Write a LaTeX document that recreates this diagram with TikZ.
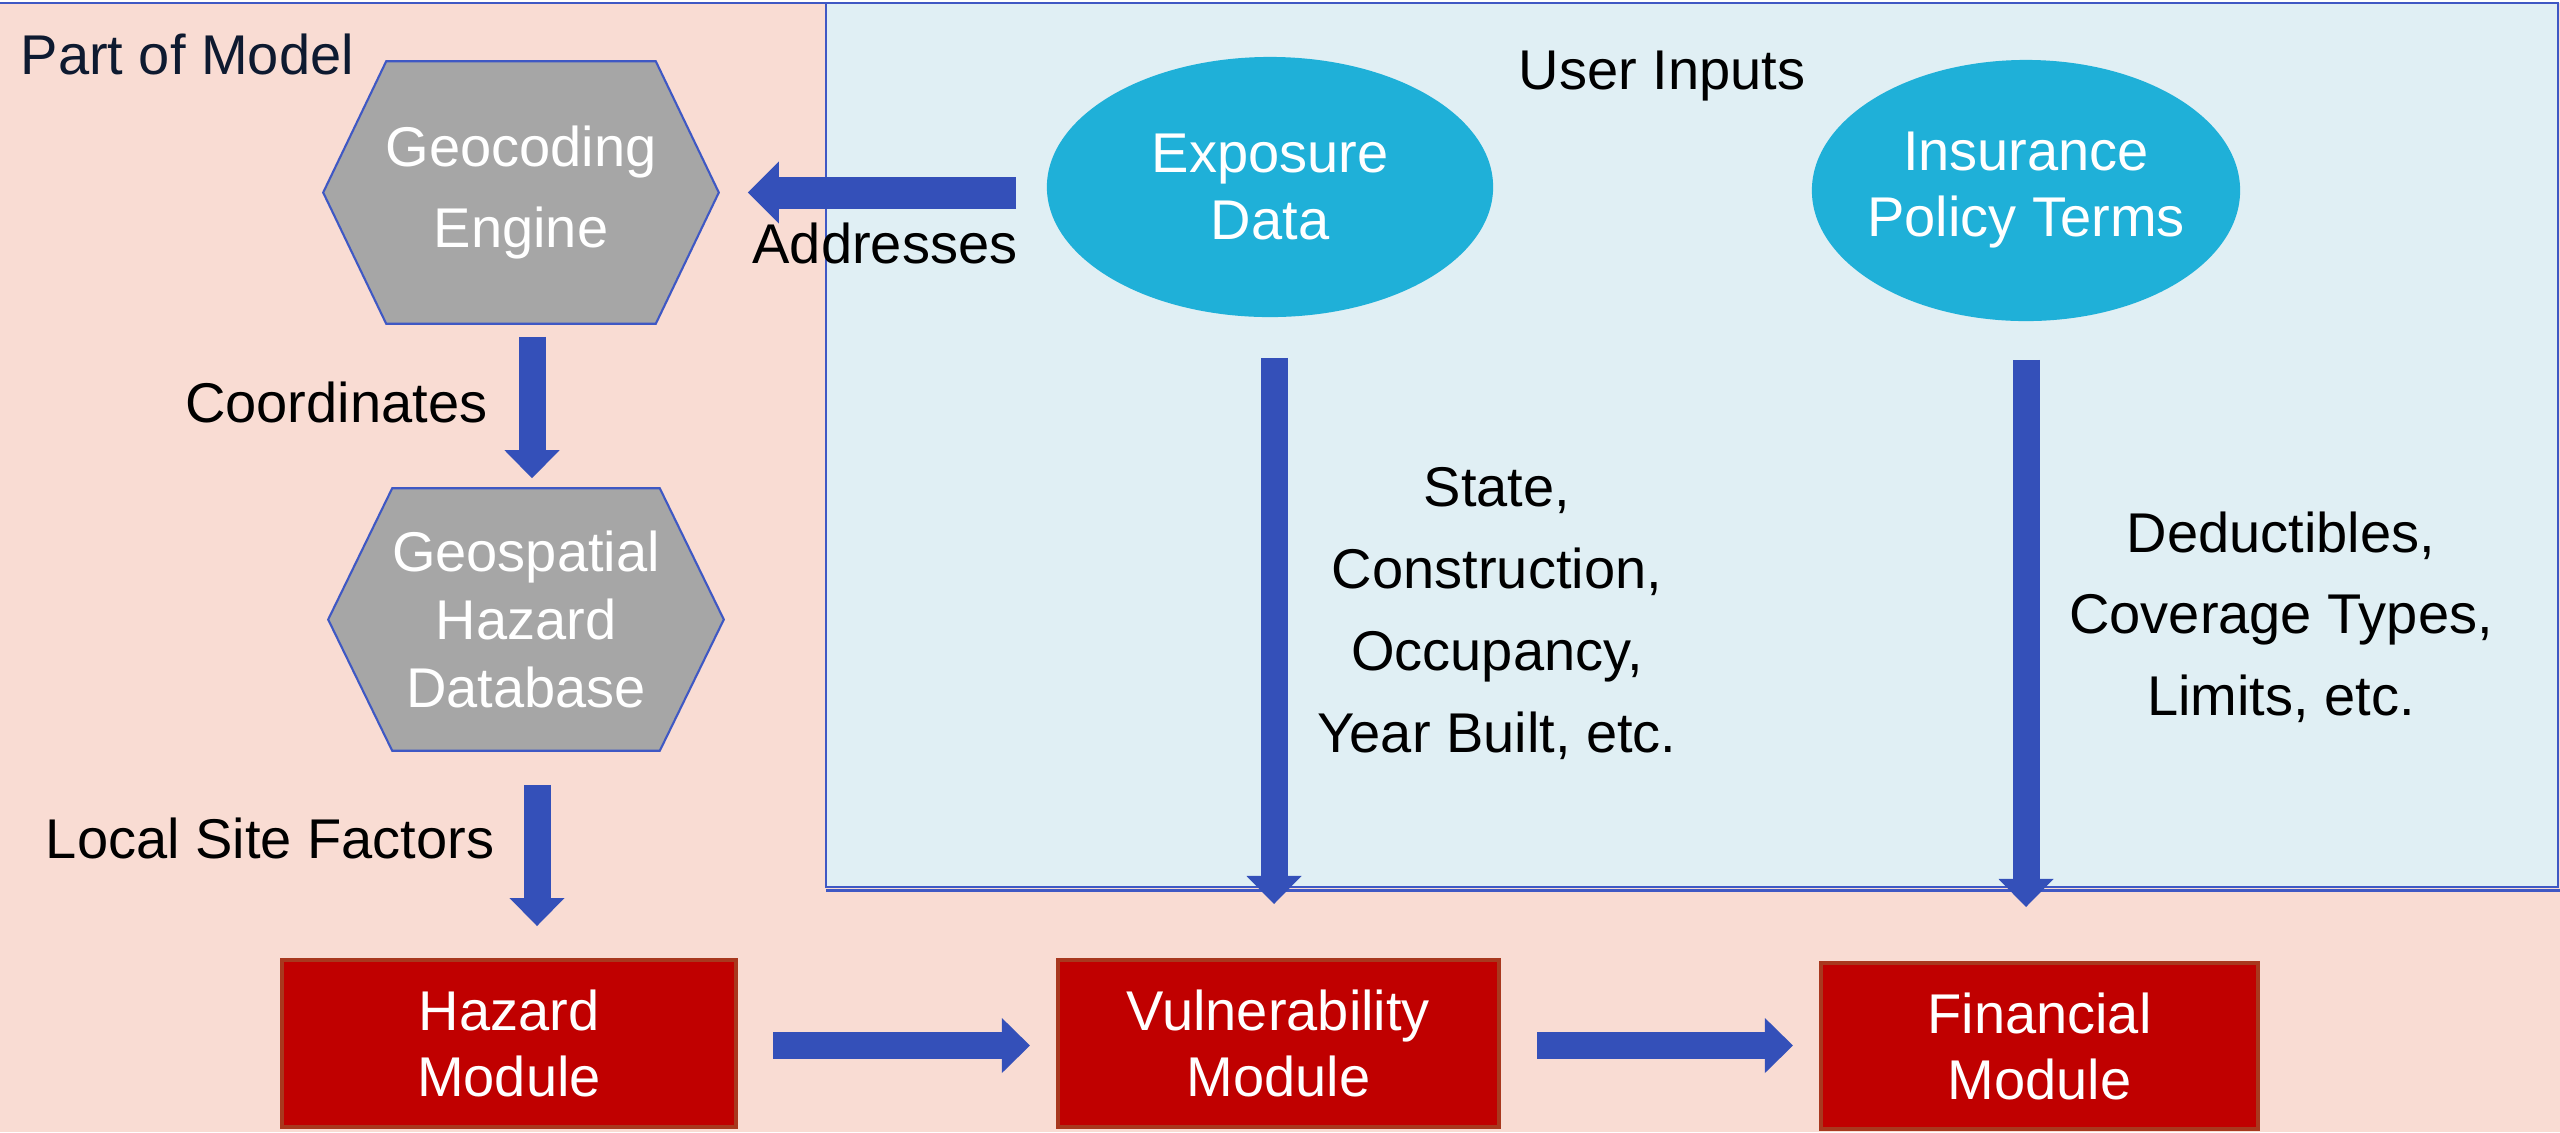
\documentclass[tikz,border=0pt]{standalone}
\usepackage{fontspec}
\setmainfont{Liberation Sans}
\usetikzlibrary{arrows.meta,shapes.geometric,calc}

\definecolor{pinkbg}{RGB}{249,220,211}
\definecolor{userbg}{RGB}{224,239,244}
\definecolor{frameblue}{RGB}{63,88,196}
\definecolor{arrowblue}{RGB}{52,80,185}
\definecolor{hexgray}{RGB}{166,166,166}
\definecolor{inputcyan}{RGB}{31,176,216}
\definecolor{modred}{RGB}{192,0,0}
\definecolor{modedge}{RGB}{168,56,30}
\definecolor{navytext}{RGB}{14,26,48}

\pgfdeclarelayer{back}
\pgfsetlayers{back,main}

\tikzset{
  fs/.style={font=\fontsize{15.93pt}{#1}\selectfont},
  hexnode/.style={rectangle, inner sep=0pt, align=center, text=white},
  hexshape/.style={fill=hexgray, draw=frameblue, line width=0.6pt},
  inputnode/.style={ellipse, fill=inputcyan, inner xsep=-0.3cm, inner ysep=0pt,
    align=center, text=white, fs=18.78pt},
  modnode/.style={rectangle, fill=modred, draw=modedge, line width=1.1pt,
    inner sep=0pt, align=center, text=white, fs=18.78pt},
  lbl/.style={inner sep=0pt, text=black, fs=23.3pt},
  bigarrow/.style={draw=arrowblue, line width=0.27cm,
    -{Triangle[width=0.55cm, length=0.28cm, line width=0pt]}},
  addrarrow/.style={draw=arrowblue, line width=0.32cm,
    -{Triangle[width=0.62cm, length=0.31cm, line width=0pt]}},
}

\begin{document}
\begin{tikzpicture}[x=0.01cm, y=-0.01cm]
\useasboundingbox (0,0) rectangle (2560,1132);

% backdrop: model area and user-input panel
\begin{pgfonlayer}{back}
  \fill[white] (0,0) rectangle (2560,1132);
  \fill[pinkbg] (0,3) rectangle (2560,1132);
  \draw[frameblue, line width=0.6pt] (0,3) -- (826,3);
  \filldraw[fill=userbg, draw=frameblue, line width=0.6pt] (826,3) rectangle (2558,887);
  \draw[frameblue, line width=0.6pt] (826,890.5) -- (2560,890.5);
\end{pgfonlayer}

% section titles
\node[inner sep=0pt, anchor=base west, text=navytext, fs=20pt] (partmodel) at (20,74) {Part of Model};
\node[inner sep=0pt, anchor=base west, text=black, fs=20pt] (userinputs) at (1518,89) {User Inputs};

% model components
\node[hexnode, minimum width=3.94cm, minimum height=2.61cm, fs=22.76pt] (geo) at (521,192.5) {Geocoding\\Engine};
\node[hexnode, minimum width=3.94cm, minimum height=2.61cm, fs=19.35pt] (geosp) at (526,619.5) {Geospatial\\Hazard\\Database};

\begin{pgfonlayer}{back}
  \draw[hexshape] (geo.west) -- ([xshift=0.63cm]geo.north west) -- ([xshift=-0.63cm]geo.north east)
    -- (geo.east) -- ([xshift=-0.63cm]geo.south east) -- ([xshift=0.63cm]geo.south west) -- cycle;
  \draw[hexshape] (geosp.west) -- ([xshift=0.64cm]geosp.north west) -- ([xshift=-0.64cm]geosp.north east)
    -- (geosp.east) -- ([xshift=-0.64cm]geosp.south east) -- ([xshift=0.64cm]geosp.south west) -- cycle;
\end{pgfonlayer}

% user inputs
\node[inputnode, minimum width=4.46cm, minimum height=2.60cm] (expo) at (1270,187) {Exposure\\Data};
\node[inputnode, minimum width=4.28cm, minimum height=2.61cm] (ins) at (2026,190.5) {Insurance\\Policy Terms};

% modules
\node[modnode, minimum width=4.54cm, minimum height=1.67cm] (haz) at (509,1043.5) {Hazard\\Module};
\node[modnode, minimum width=4.41cm, minimum height=1.67cm] (vul) at (1278.5,1043.5) {Vulnerability\\Module};
\node[modnode, minimum width=4.37cm, minimum height=1.66cm] (fin) at (2039.5,1046) {Financial\\Module};

% flow labels
\node[lbl, anchor=base east] (coordlbl) at (488,422) {Coordinates};
\node[lbl, anchor=base east] (sitelbl) at (495,858) {Local Site Factors};
\node[lbl, anchor=base east] (addrlbl) at (1018,263) {Addresses};
\node[lbl, align=center] (exposlbl) at (1497,613.5) {State,\\Construction,\\Occupancy,\\Year Built, etc.};
\node[lbl, align=center, fs=23.2pt] (policylbl) at (2281,617) {Deductibles,\\Coverage Types,\\Limits, etc.};

% connectors
\draw[addrarrow, shorten <=0.30cm, shorten >=0.29cm] (expo.west |- geo.east) -- (geo.east);
\draw[bigarrow, shorten <=0.13cm, shorten >=0.10cm] ([xshift=0.11cm]geo.south) -- ([xshift=0.11cm]geo.south |- geosp.north);
\draw[bigarrow, shorten <=0.34cm, shorten >=0.32cm] ([xshift=0.11cm]geosp.south) -- ([xshift=0.11cm]geosp.south |- haz.north);
\draw[bigarrow, shorten <=0.40cm, shorten >=0.54cm] ([xshift=0.04cm]expo.south) -- ([xshift=0.04cm]expo.south |- vul.north);
\draw[bigarrow, shorten <=0.38cm, shorten >=0.54cm] (ins.south) -- (ins.south |- fin.north);
\draw[bigarrow, shorten <=0.35cm, shorten >=0.26cm] ([yshift=-0.02cm]haz.east) -- ([yshift=-0.02cm]haz.east -| vul.west);
\draw[bigarrow, shorten <=0.36cm, shorten >=0.26cm] ([yshift=-0.02cm]vul.east) -- ([yshift=-0.02cm]vul.east -| fin.west);

\end{tikzpicture}
\end{document}
